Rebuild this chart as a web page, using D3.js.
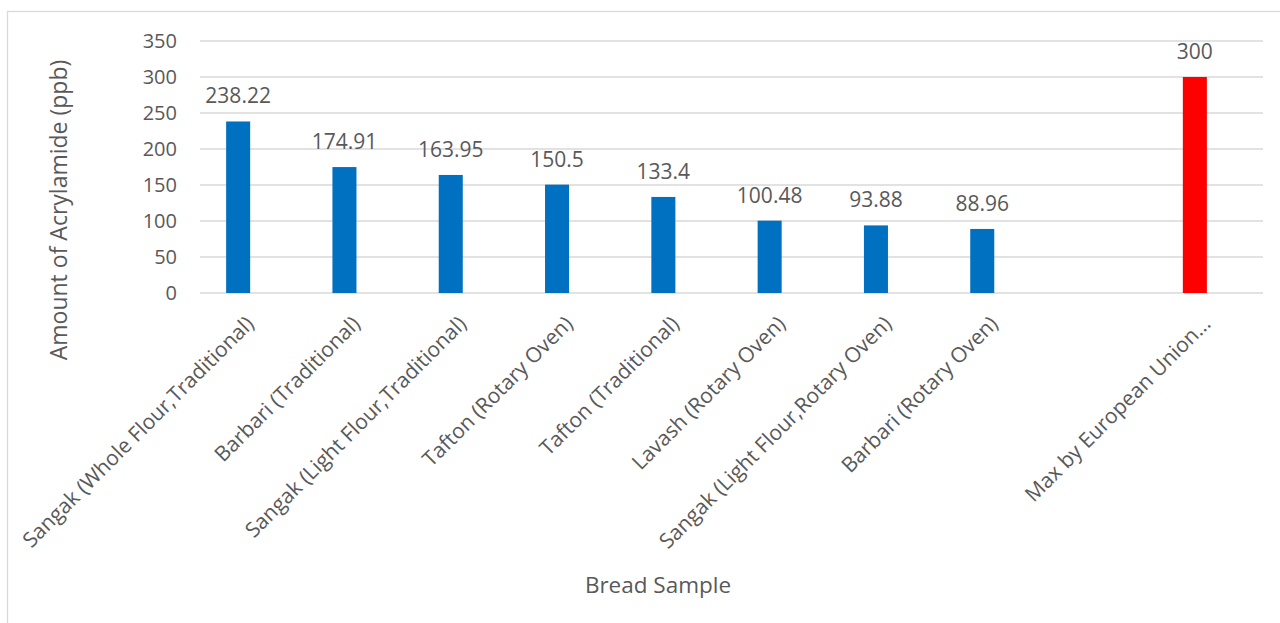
<!DOCTYPE html>
<html>
<head>
<meta charset="utf-8">
<script src="https://cdn.jsdelivr.net/npm/d3@7"></script>
<style>
  body { margin: 0; background: #fff; }
  text { font-family: "Open Sans", sans-serif; fill: #595959; }
</style>
</head>
<body>
<div id="main"></div>
<script>
const ctx = {
    w: 1280,
    h: 623,
};

// data
const categories = [
  "Sangak (Whole Flour,Traditional)",
  "Barbari (Traditional)",
  "Sangak (Light Flour,Traditional)",
  "Tafton (Rotary Oven)",
  "Tafton (Traditional)",
  "Lavash (Rotary Oven)",
  "Sangak (Light Flour,Rotary Oven)",
  "Barbari (Rotary Oven)",
  "",
  "Max by European Union..."
];
const values = [238.22, 174.91, 163.95, 150.5, 133.4, 100.48, 93.88, 88.96, null, 300];
const valueLabels = ["238.22", "174.91", "163.95", "150.5", "133.4", "100.48", "93.88", "88.96", "", "300"];
const yTicks = [0, 50, 100, 150, 200, 250, 300, 350];
const limitCategory = "Max by European Union...";

function createChart(svg) {
    let data = categories.map((c, i) => ({ cat: c, value: values[i], label: valueLabels[i] }));

    let x = d3.scaleBand()
        .domain(categories)
        .range([185, 1248])
        .paddingInner(0.774)
        .paddingOuter(0.387);

    let y = d3.scaleLinear()
        .domain([0, 350])
        .range([293, 41]);

    // chart frame
    svg.append("rect")
        .attr("x", 7.5).attr("y", 11.5)
        .attr("width", 1400).attr("height", 700)
        .style("fill", "none")
        .style("stroke", "#d9d9d9")
        .style("stroke-width", 1.3);

    // gridlines
    svg.append("g")
        .selectAll("line")
        .data(yTicks)
        .enter()
        .append("line")
        .attr("x1", 200).attr("x2", 1263)
        .attr("y1", d => y(d)).attr("y2", d => y(d))
        .style("stroke", "#d9d9d9")
        .style("stroke-width", 1.5);

    // y tick labels
    svg.append("g")
        .selectAll("text")
        .data(yTicks)
        .enter()
        .append("text")
        .attr("x", 177)
        .attr("y", d => y(d))
        .attr("dy", "0.36em")
        .attr("text-anchor", "end")
        .style("font-size", "20px")
        .text(d => d);

    let bars = data.filter(d => d.value != null);

    svg.append("g")
        .selectAll("rect")
        .data(bars)
        .enter()
        .append("rect")
        .attr("x", d => x(d.cat))
        .attr("y", d => y(d.value))
        .attr("width", x.bandwidth())
        .attr("height", d => y(0) - y(d.value))
        .style("fill", d => d.cat == limitCategory ? "#ff0000" : "#0070c0");

    // value labels
    svg.append("g")
        .selectAll("text")
        .data(bars)
        .enter()
        .append("text")
        .attr("x", d => x(d.cat) + x.bandwidth() / 2)
        .attr("y", d => y(d.value) - 18)
        .attr("text-anchor", "middle")
        .style("font-size", "21px")
        .text(d => d.label);

    // category labels, rotated
    svg.append("g")
        .selectAll("text")
        .data(data)
        .enter()
        .append("text")
        .attr("transform", d => `translate(${x(d.cat) + x.bandwidth() / 2 + 17},325) rotate(-45)`)
        .attr("text-anchor", "end")
        .style("font-size", "21px")
        .text(d => d.cat);

    // axis titles
    svg.append("text")
        .attr("transform", "translate(67,210) rotate(-90)")
        .attr("text-anchor", "middle")
        .style("font-size", "23px")
        .text("Amount of Acrylamide (ppb)");

    svg.append("text")
        .attr("x", 658)
        .attr("y", 593)
        .attr("text-anchor", "middle")
        .style("font-size", "22.5px")
        .text("Bread Sample");
}

function createViz() {
    let svgEl = d3.select("#main").append("svg");
    svgEl.attr("width", ctx.w);
    svgEl.attr("height", ctx.h);
    createChart(svgEl);
}

createViz();
</script>
</body>
</html>
